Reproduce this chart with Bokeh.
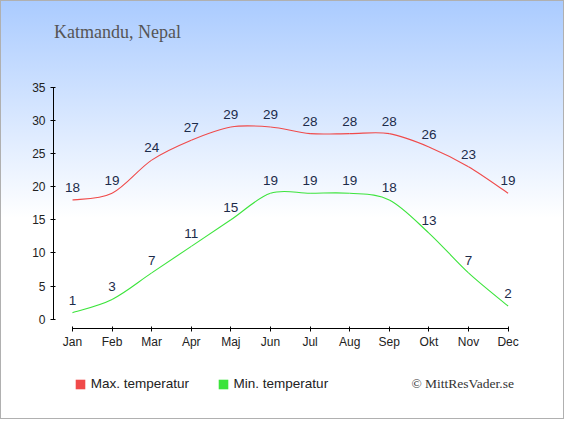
from bokeh.plotting import figure
from bokeh.layouts import column
from bokeh.models import Range1d, Label, Legend, LegendItem, FixedTicker, ColumnDataSource
from bokeh.embed import file_html
from bokeh.resources import INLINE
from bokeh.core.properties import value

months = ["Jan", "Feb", "Mar", "Apr", "Maj", "Jun", "Jul", "Aug", "Sep", "Okt", "Nov", "Dec"]
max_temp = [18, 19, 24, 27, 29, 29, 28, 28, 28, 26, 23, 19]
min_temp = [1, 3, 7, 11, 15, 19, 19, 19, 18, 13, 7, 2]
y_ticks = [0, 5, 10, 15, 20, 25, 30, 35]
title_text = "Katmandu, Nepal"
credit_text = "\u00a9 MittResVader.se"
max_name = "Max. temperatur"
min_name = "Min. temperatur"

MAX_COLOR = "#f04a4a"
MIN_COLOR = "#3ce43c"
LABEL_COLOR = "#1c2b4a"

W, H = 564, 419
TOP_H = 80          # title strip
MID_H = 279         # chart strip (80..359)
BOT_H = H - TOP_H - MID_H

# chart geometry (pixels, whole-page coords)
X_JAN, X_DEC = 71.96, 507.6
Y_ZERO, Y_35 = 318.8, 86.7
FL, FR = 53, 525
FT, FB = 86, 328
px_per_month = (X_DEC - X_JAN) / 11.0
px_per_deg = (Y_ZERO - Y_35) / 35.0
x_start = (FL - X_JAN) / px_per_month
x_end = x_start + (FR - FL) / px_per_month
y_end = (Y_ZERO - FT) / px_per_deg
y_start = (Y_ZERO - FB) / px_per_deg


def blank(height):
    # frames of stacked plots are aligned, so x maps to page pixels FL..FR
    f = figure(width=W, height=height, output_backend="svg", toolbar_location=None,
               x_range=Range1d(FL, FR), y_range=Range1d(height, 0),
               min_border=0, x_axis_location=None, y_axis_location=None)
    f.background_fill_alpha = 0
    f.border_fill_alpha = 0
    f.outline_line_alpha = 0
    f.grid.visible = False
    return f


# ---- title strip
top = blank(TOP_H)
top.add_layout(Label(x=FL + 0.5, y=31, text=title_text, text_font="Liberation Serif",
                     text_font_size="18px", text_color="#555555", text_baseline="alphabetic"))

# ---- chart
p = figure(width=W, height=MID_H, output_backend="svg", toolbar_location=None,
           x_range=Range1d(x_start, x_end), y_range=Range1d(y_start, y_end),
           min_border_left=FL, min_border_right=W - FR,
           min_border_top=FT - TOP_H, min_border_bottom=TOP_H + MID_H - FB,
           frame_width=FR - FL, frame_height=FB - FT)
p.background_fill_alpha = 0
p.border_fill_alpha = 0
p.outline_line_alpha = 0
p.grid.visible = False

xs = list(range(len(months)))


def smooth(ys):
    n = len(ys)
    d = dict(x0=[], y0=[], x1=[], y1=[], cx0=[], cy0=[], cx1=[], cy1=[])
    for i in range(n - 1):
        im1 = max(i - 1, 0)
        ip2 = min(i + 2, n - 1)
        d["x0"].append(xs[i]); d["y0"].append(ys[i])
        d["x1"].append(xs[i + 1]); d["y1"].append(ys[i + 1])
        d["cx0"].append(xs[i] + (xs[i + 1] - xs[im1]) / 6.0)
        d["cy0"].append(ys[i] + (ys[i + 1] - ys[im1]) / 6.0)
        d["cx1"].append(xs[i + 1] - (xs[ip2] - xs[i]) / 6.0)
        d["cy1"].append(ys[i + 1] - (ys[ip2] - ys[i]) / 6.0)
    return ColumnDataSource(d)


p.bezier("x0", "y0", "x1", "y1", "cx0", "cy0", "cx1", "cy1", source=smooth(max_temp),
         line_color=MAX_COLOR, line_width=1.1)
p.bezier("x0", "y0", "x1", "y1", "cx0", "cy0", "cx1", "cy1", source=smooth(min_temp),
         line_color=MIN_COLOR, line_width=1.1)

for vals in (max_temp, min_temp):
    p.text(x=xs, y=vals, text=[str(v) for v in vals], text_align="center",
           text_baseline="middle", y_offset=-12.5, text_color=LABEL_COLOR,
           text_font=value("Liberation Sans"), text_font_size="13.5px")

p.xaxis.ticker = FixedTicker(ticks=xs)
p.xaxis.major_label_overrides = {i: m for i, m in enumerate(months)}
p.xaxis.bounds = (0, 11)
p.yaxis.ticker = FixedTicker(ticks=y_ticks)
p.yaxis.bounds = (0, 35)
for ax in (p.xaxis, p.yaxis):
    ax.minor_tick_line_color = None
    ax.axis_line_color = "#000000"
    ax.major_tick_line_color = "#000000"
    ax.major_tick_in = 2
    ax.major_tick_out = 3
    ax.major_label_text_font = "Liberation Sans"
    ax.major_label_text_font_size = "12px"
    ax.major_label_text_color = "#222222"
p.yaxis.major_label_standoff = 5
p.xaxis.major_label_standoff = 3

# ---- legend strip (swatch renderers hold one off-frame square so the legend draws them)
bot = blank(BOT_H)
r_max = bot.quad(left=[0], right=[10], top=[-20], bottom=[-10], fill_color=MAX_COLOR, line_color=None)
r_min = bot.quad(left=[0], right=[10], top=[-20], bottom=[-10], fill_color=MIN_COLOR, line_color=None)
for r, name, lx in ((r_max, max_name, 73.7 - FL), (r_min, min_name, 216.6 - FL)):
    lg = Legend(items=[LegendItem(label=name, renderers=[r])], location=(lx, 28),
                orientation="horizontal", padding=0, margin=0, spacing=0,
                glyph_width=12, glyph_height=12, label_standoff=5, label_height=12,
                label_text_font="Liberation Sans", label_text_font_size="13.5px",
                label_text_color="#222222", background_fill_alpha=0, border_line_alpha=0)
    bot.add_layout(lg, "center")
bot.add_layout(Label(x=513.4, y=383.4 - TOP_H - MID_H, text=credit_text,
                     text_font="Liberation Serif", text_font_size="13.5px",
                     text_color="#333333", text_align="right", text_baseline="middle"))

page = column(top, p, bot, spacing=0,
              styles={"background": "linear-gradient(to bottom, #aacbff 0px, #ffffff 218px)",
                      "outline": "1px solid #b0b0b0", "outline-offset": "-1px"})

open("out.html", "w").write(file_html(page, INLINE))
